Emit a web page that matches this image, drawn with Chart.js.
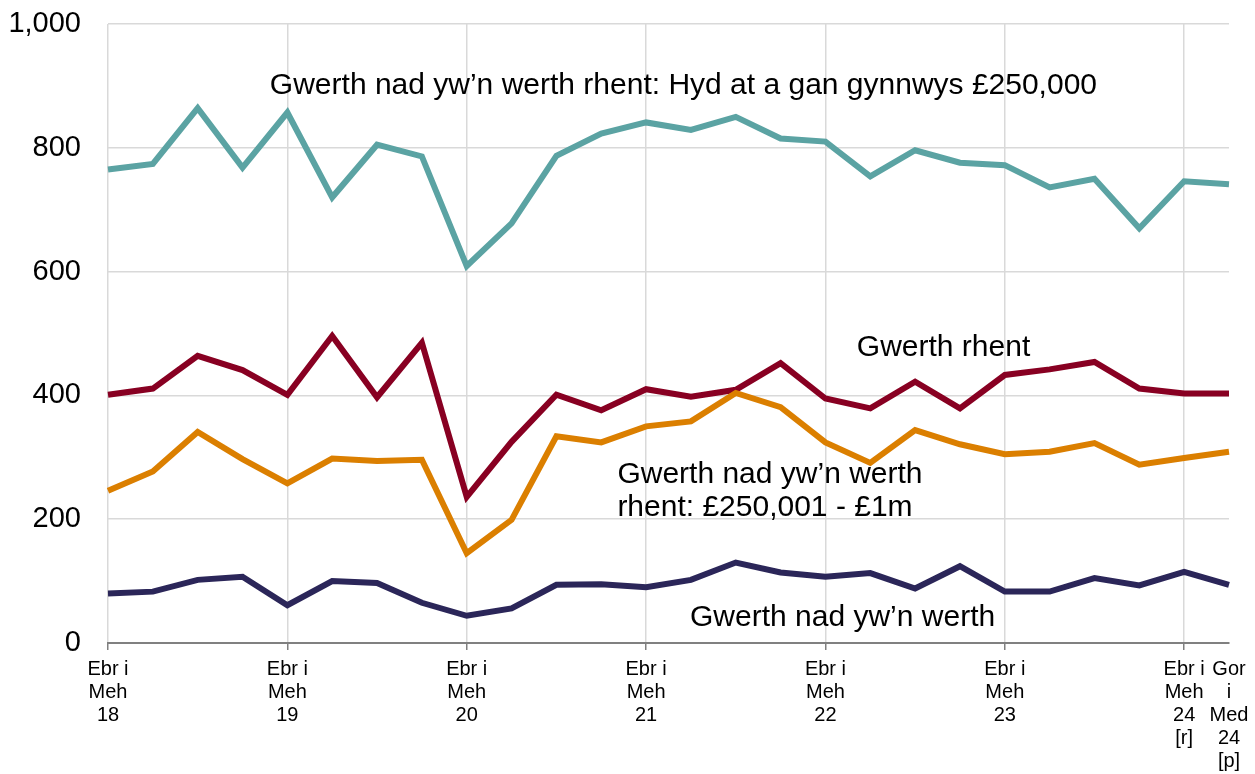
<!DOCTYPE html>
<html><head><meta charset="utf-8">
<script src="https://cdn.jsdelivr.net/npm/chart.js@4.4.0/dist/chart.umd.min.js"></script>
<style>html,body{margin:0;padding:0;background:#fff;}canvas{display:block;}</style>
</head><body>
<canvas id="c" width="1255" height="774"></canvas>
<script>
// Quarters (Welsh): Ebr i Meh, Gor i Med, Hyd i Rhag, Ion i Maw
const categories = [
  "Ebr i Meh 18","Gor i Med 18","Hyd i Rhag 18","Ion i Maw 19",
  "Ebr i Meh 19","Gor i Med 19","Hyd i Rhag 19","Ion i Maw 20",
  "Ebr i Meh 20","Gor i Med 20","Hyd i Rhag 20","Ion i Maw 21",
  "Ebr i Meh 21","Gor i Med 21","Hyd i Rhag 21","Ion i Maw 22",
  "Ebr i Meh 22","Gor i Med 22","Hyd i Rhag 22","Ion i Maw 23",
  "Ebr i Meh 23","Gor i Med 23","Hyd i Rhag 23","Ion i Maw 24",
  "Ebr i Meh 24 [r]","Gor i Med 24 [p]"
];
const tickLabels = [
  ["Ebr i","Meh","18"],"","","",
  ["Ebr i","Meh","19"],"","","",
  ["Ebr i","Meh","20"],"","","",
  ["Ebr i","Meh","21"],"","","",
  ["Ebr i","Meh","22"],"","","",
  ["Ebr i","Meh","23"],"","","",
  ["Ebr i","Meh","24","[r]"],["Gor","i","Med","24","[p]"]
];
const gridAt = [0,4,8,12,16,20,24];

const hydAt250k   = [765,774,864,768,857,720,805,786,609,678,787,823,841,829,850,815,810,754,796,776,772,736,750,670,746,741];
const rhent       = [401,411,464,441,401,496,397,485,236,325,401,376,410,398,409,452,395,379,422,379,433,442,454,411,403,403];
const rhwng250k1m = [246,277,341,297,258,298,294,296,145,199,334,324,350,358,404,381,324,291,344,321,305,309,323,288,299,309];
const nadYwnWerth = [80,83,102,107,61,100,97,65,44,56,94,95,90,102,130,114,107,113,88,124,83,83,105,93,115,94];

const seriesNames = [
  "Gwerth nad yw’n werth rhent: Hyd at a gan gynnwys £250,000",
  "Gwerth rhent",
  "Gwerth nad yw’n werth rhent: £250,001 - £1m",
  "Gwerth nad yw’n werth"
];

// labels placed at (category index, value) of their text baseline
const annotations = [
  {lines:["Gwerth nad yw’n werth rhent: Hyd at a gan gynnwys £250,000"], at:[3.61, 887]},
  {lines:["Gwerth rhent"], at:[16.70, 463]},
  {lines:["Gwerth nad yw’n werth","rhent: £250,001 - £1m"], at:[11.36, 258]},
  {lines:["Gwerth nad yw’n werth"], at:[12.98, 27]}
];

Chart.defaults.font.family = '"Liberation Sans", Arial, sans-serif';
Chart.defaults.color = '#000';

const labelPlugin = {
  id:'labels',
  afterDatasetsDraw(chart){
    const {ctx, scales:{x,y}} = chart;
    ctx.save();
    ctx.font = '30px "Liberation Sans", Arial, sans-serif';
    ctx.fillStyle = '#000';
    ctx.textAlign = 'left';
    ctx.textBaseline = 'alphabetic';
    annotations.forEach(a=>{
      const px = x.getPixelForValue(a.at[0]);
      const py = y.getPixelForValue(a.at[1]);
      a.lines.forEach((l,i)=>ctx.fillText(l, px, py + i*33));
    });
    ctx.restore();
  }
};

new Chart(document.getElementById('c'), {
  type:'line',
  data:{
    labels: categories,
    datasets:[
      {label:seriesNames[3], data:nadYwnWerth, borderColor:'#2b2659', order:4},
      {label:seriesNames[2], data:rhwng250k1m, borderColor:'#db7f00', order:2},
      {label:seriesNames[1], data:rhent, borderColor:'#880022', order:3},
      {label:seriesNames[0], data:hydAt250k, borderColor:'#5ba3a3', order:1}
    ].map(d=>Object.assign({borderWidth:6, pointRadius:0, tension:0, fill:false}, d))
  },
  options:{
    responsive:false,
    devicePixelRatio:1,
    animation:false,
    layout:{padding:{top:24,right:26,left:0,bottom:0}},
    plugins:{legend:{display:false}, tooltip:{enabled:false}},
    scales:{
      x:{
        offset:false,
        ticks:{autoSkip:false, maxRotation:0, minRotation:0, padding:8,
          font:{size:20, lineHeight:1.15}, color:'#000',
          callback:(v,i)=>tickLabels[i]},
        grid:{
          color:c=>gridAt.includes(c.index)?'#d9d9d9':'rgba(0,0,0,0)',
          tickColor:c=>gridAt.includes(c.index)?'#808080':'rgba(0,0,0,0)',
          lineWidth:1.5, tickLength:7
        },
        border:{color:'#808080', width:2},
        afterFit:s=>{s.height = 131; s.paddingLeft = 0; s.paddingRight = 0;}
      },
      y:{
        min:0, max:1000,
        ticks:{stepSize:200, font:{size:29}, color:'#000', padding:27,
          callback:v=>v.toLocaleString('en-GB')},
        grid:{color:c=>c.tick && c.tick.value===0?'rgba(0,0,0,0)':'#d9d9d9', lineWidth:1.5, drawTicks:false},
        border:{display:false},
        afterFit:s=>{s.width = 108; s.paddingTop = 0; s.paddingBottom = 0;}
      }
    }
  },
  plugins:[labelPlugin]
});
</script>
</body></html>
